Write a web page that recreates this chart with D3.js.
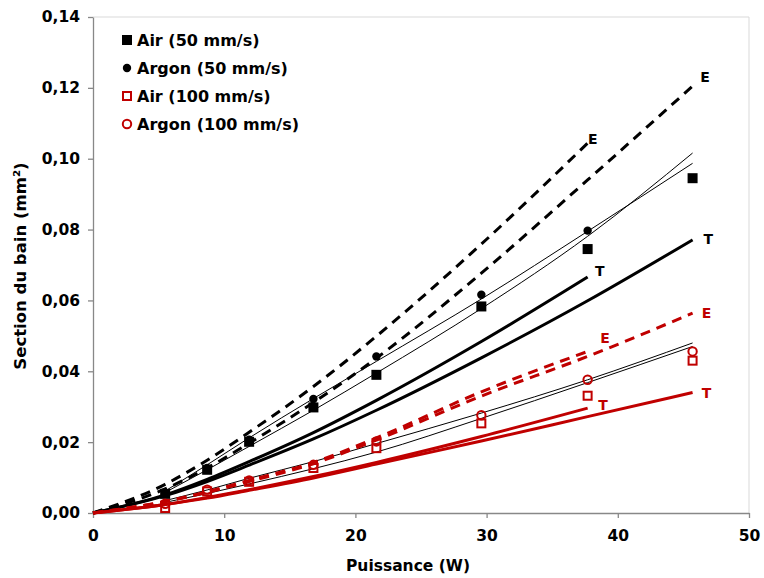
<!DOCTYPE html>
<html><head><meta charset="utf-8">
<script src="https://cdn.jsdelivr.net/npm/d3@7"></script>
<style>
body{margin:0;background:#fff;}
text{font-family:"DejaVu Sans",Verdana,sans-serif;font-weight:bold;}
</style></head>
<body><svg id="c" width="764" height="578"></svg>
<script>
// ---- data ----
const power = [5.5, 8.7, 11.9, 16.8, 21.6, 29.6, 37.7, 45.7];
const air50 = [0.0054, 0.0122, 0.0201, 0.0298, 0.0390, 0.0583, 0.0745, 0.0945];
const argon50 = [0.0057, 0.0127, 0.0207, 0.0322, 0.0442, 0.0616, 0.0797, null];
const air100 = [0.0014, 0.0061, 0.0088, 0.0127, 0.0183, 0.0253, 0.0331, 0.0430];
const argon100 = [0.0026, 0.0066, 0.0092, 0.0136, 0.0202, 0.0276, 0.0376, 0.0456];

const lineX = [0, 5.5, 8.7, 11.9, 16.8, 21.6, 29.6, 37.7, 45.7];
const e50Short = [0, 0.0081, 0.0149, 0.0228, 0.0357, 0.0499, 0.0759, 0.1044];
const e50Long = [0, 0.0068, 0.0127, 0.0197, 0.0312, 0.0437, 0.0677, 0.0940, 0.1205];
const t50Short = [0, 0.0051, 0.0095, 0.0145, 0.0227, 0.0318, 0.0484, 0.0666];
const t50Long = [0, 0.0049, 0.0089, 0.0135, 0.0209, 0.0290, 0.0438, 0.0599, 0.0771];
const e100Short = [0, 0.0033, 0.0060, 0.0092, 0.0143, 0.0212, 0.0342, 0.0456];
const e100Long = [0, 0.0032, 0.0058, 0.0089, 0.0139, 0.0206, 0.0330, 0.0442, 0.0564];
const t100Short = [0, 0.0024, 0.0044, 0.0066, 0.0103, 0.0143, 0.0216, 0.0296];
const t100Long = [0, 0.0024, 0.0042, 0.0064, 0.0099, 0.0138, 0.0203, 0.0272, 0.0340];

const fitArgon50 = [0.0062, 0.0136, 0.0212, 0.0323, 0.0428, 0.0604, 0.0795, 0.0987];
const fitAir50 = [0.0058, 0.0122, 0.0188, 0.0290, 0.0395, 0.0577, 0.0781, 0.1016];
const fitArgon100 = [0.0035, 0.0065, 0.0098, 0.0145, 0.0196, 0.0282, 0.0376, 0.0480];
const fitAir100 = [0.0030, 0.0055, 0.0082, 0.0125, 0.0172, 0.0267, 0.0368, 0.0470];

const xTicks = [0, 10, 20, 30, 40, 50];
const yTicks = [0, 0.02, 0.04, 0.06, 0.08, 0.10, 0.12, 0.14];
const legendLabels = ["Air (50 mm/s)", "Argon (50 mm/s)", "Air (100 mm/s)", "Argon (100 mm/s)"];
const curveLabels = [
  {t:"E", x:38.1, y:0.1057, c:"black"}, {t:"E", x:46.65, y:0.1232, c:"black"},
  {t:"T", x:38.62, y:0.0682, c:"black"}, {t:"T", x:46.89, y:0.0774, c:"black"},
  {t:"E", x:39.02, y:0.0495, c:"red"}, {t:"E", x:46.76, y:0.0566, c:"red"},
  {t:"T", x:38.87, y:0.0306, c:"red"}, {t:"T", x:46.76, y:0.0340, c:"red"}
];
const xTitle = "Puissance (W)";
const yTitle = "Section du bain (mm²)";

// ---- drawing ----
const RED = "#C00000";
const svg = d3.select("#c");
const L = 93, R = 749, T = 17, B = 513;
const x = d3.scaleLinear().domain([0, 50]).range([L, R]);
const y = d3.scaleLinear().domain([0, 0.14]).range([B, T]);
const loc = d3.formatLocale({decimal: ",", thousands: " ", grouping: [3], currency: ["", ""]});
const fy = loc.format(".2f");

// border top/right
svg.append("line").attr("x1", L).attr("x2", R).attr("y1", T).attr("y2", T).attr("stroke", "#d9d9d9");
svg.append("line").attr("x1", R).attr("x2", R).attr("y1", T).attr("y2", B).attr("stroke", "#d9d9d9");

const gx = svg.append("g").attr("transform", `translate(0,${B})`)
  .call(d3.axisBottom(x).tickValues(xTicks).tickSize(5).tickSizeOuter(0).tickPadding(8));
const gy = svg.append("g").attr("transform", `translate(${L},0)`)
  .call(d3.axisLeft(y).tickValues(yTicks).tickFormat(fy).tickSize(5).tickSizeOuter(0).tickPadding(8));
[gx, gy].forEach(g => {
  g.select(".domain").attr("stroke", "#888").attr("stroke-width", 1.3);
  g.selectAll(".tick line").attr("stroke", "#888").attr("stroke-width", 1.3);
  g.selectAll(".tick text").attr("font-size", 15.5).attr("fill", "#000")
    .attr("font-family", "'DejaVu Sans',Verdana,sans-serif").attr("font-weight", "bold");
});
gx.selectAll(".tick text").attr("dy", "0.95em");

const mkLine = d3.line().x(d => x(d[0])).y(d => y(d[1])).curve(d3.curveMonotoneX);
function draw(xs, ys, color, width, dash) {
  const pts = ys.map((v, i) => [xs[i], v]);
  svg.append("path").attr("d", mkLine(pts)).attr("fill", "none")
    .attr("stroke", color).attr("stroke-width", width)
    .attr("stroke-dasharray", dash || null);
}
// fit lines (thin)
draw(power, fitArgon50, "#000", 1);
draw(power, fitAir50, "#000", 1);
draw(power, fitArgon100, "#000", 1);
draw(power, fitAir100, "#000", 1);
// theory / experiment
draw(lineX, e50Short, "#000", 3, "10,7");
draw(lineX, e50Long, "#000", 3, "10,7");
draw(lineX, t50Short, "#000", 3);
draw(lineX, t50Long, "#000", 3);
draw(lineX, e100Short, RED, 3, "10,7");
draw(lineX, e100Long, RED, 3, "10,7");
draw(lineX, t100Short, RED, 3);
draw(lineX, t100Long, RED, 3);

// markers
function squares(vals, filled) {
  const s = filled ? 10 : 8;
  svg.append("g").selectAll("rect").data(vals.map((v, i) => [power[i], v]).filter(d => d[1] != null))
    .join("rect").attr("x", d => x(d[0]) - s / 2).attr("y", d => y(d[1]) - s / 2)
    .attr("width", s).attr("height", s)
    .attr("fill", filled ? "#000" : "#fff").attr("fill-opacity", filled ? 1 : 0)
    .attr("stroke", filled ? "none" : RED).attr("stroke-width", 2);
}
function circles(vals, filled) {
  svg.append("g").selectAll("circle").data(vals.map((v, i) => [power[i], v]).filter(d => d[1] != null))
    .join("circle").attr("cx", d => x(d[0])).attr("cy", d => y(d[1]))
    .attr("r", 4.2)
    .attr("fill", filled ? "#000" : "none")
    .attr("stroke", filled ? "none" : RED).attr("stroke-width", 2);
}
squares(air50, true);
circles(argon50, true);
squares(air100, false);
circles(argon100, false);

// curve labels
svg.append("g").selectAll("text").data(curveLabels).join("text")
  .attr("x", d => x(d.x)).attr("y", d => y(d.y)).attr("dy", "0.36em")
  .attr("text-anchor", "middle").attr("font-size", 14)
  .attr("fill", d => d.c === "red" ? RED : "#000").text(d => d.t);

// legend
const lg = svg.append("g");
const ly = [40, 68, 96, 124];
legendLabels.forEach((lab, i) => {
  const cx = 127, cy = ly[i];
  if (i === 0) lg.append("rect").attr("x", cx - 5).attr("y", cy - 5).attr("width", 10).attr("height", 10).attr("fill", "#000");
  if (i === 1) lg.append("circle").attr("cx", cx).attr("cy", cy).attr("r", 4.2).attr("fill", "#000");
  if (i === 2) lg.append("rect").attr("x", cx - 4).attr("y", cy - 4).attr("width", 8).attr("height", 8).attr("fill", "none").attr("stroke", RED).attr("stroke-width", 2);
  if (i === 3) lg.append("circle").attr("cx", cx).attr("cy", cy).attr("r", 4.2).attr("fill", "none").attr("stroke", RED).attr("stroke-width", 2);
  lg.append("text").attr("x", 137).attr("y", cy).attr("dy", "0.36em").attr("font-size", 16).text(lab);
});

// titles
svg.append("text").attr("x", 408).attr("y", 565).attr("dy", "0.36em").attr("text-anchor", "middle")
  .attr("font-size", 15.5).text(xTitle);
svg.append("text").attr("transform", "translate(20,266) rotate(-90)").attr("dy", "0.36em")
  .attr("text-anchor", "middle").attr("font-size", 16.5).text(yTitle);
</script></body></html>
